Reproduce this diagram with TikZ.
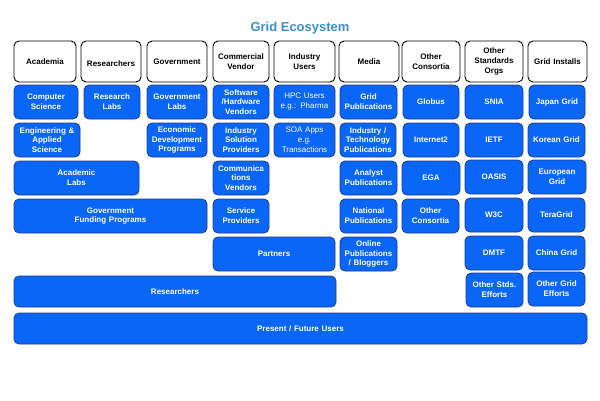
\documentclass[tikz,border=0pt]{standalone}
\usepackage{fontspec}
\setmainfont{Liberation Sans}
\definecolor{gblue}{HTML}{0A66F7}
\definecolor{gedge}{HTML}{1B3C8C}
\definecolor{gtitle}{HTML}{3B8FC8}
\tikzset{
  gbase/.style={rounded corners=5pt, inner sep=0pt, align=center, font=\fontsize{8}{9.8}\selectfont\bfseries},
  hdr/.style={gbase, draw=black, line width=0.9pt, fill=white, text=black},
  blu/.style={gbase, draw=gedge, line width=0.8pt, fill=gblue, text=white},
  blr/.style={blu, font=\fontsize{8}{9.8}\selectfont},
}
\newcommand{\gbox}[7]{%
  \pgfmathsetmacro\gw{#5-#3}\pgfmathsetmacro\gh{#6-#4}\pgfmathsetmacro\gtw{#5-#3-3}%
  \node[#1, minimum width=\gw pt, minimum height=\gh pt, text width=\gtw pt] (#2) at ({(#3+#5)/2},{(#4+#6)/2}) {#7};}
\begin{document}
\begin{tikzpicture}[x=1pt,y=-1pt]
\useasboundingbox (0,0) rectangle (600,400);
\node[text=gtitle, font=\fontsize{13}{15}\selectfont\bfseries] (title) at (300,28.5) {Grid Ecosystem};
% headers
\gbox{hdr}{hacad}{14}{41}{76}{82}{Academia}
\gbox{hdr}{hres}{81}{41}{141}{82}{\mbox{}\\Researchers}
\gbox{hdr}{hgov}{147}{41}{207}{82}{Government}
\gbox{hdr}{hcom}{213}{41}{269}{82}{Commercial\\Vendor}
\gbox{hdr}{hind}{274}{41}{335}{82}{Industry\\Users}
\gbox{hdr}{hmed}{339}{41}{399}{82}{Media}
\gbox{hdr}{hoc}{402}{41}{460}{82}{Other\\Consortia}
\gbox{hdr}{hoso}{465}{41}{523}{82}{Other\\Standards\\Orgs}
\gbox{hdr}{hgi}{528}{41}{587}{82}{Grid Installs}
% row 1
\gbox{blu}{cs}{14}{85}{78}{119}{Computer\\Science}
\gbox{blu}{rl}{84}{85}{140}{119}{Research\\Labs}
\gbox{blu}{gl}{147}{85}{207}{119}{Government\\Labs}
\gbox{blu}{shw}{213}{85}{269}{119}{Software\\/Hardware\\Vendors}
\gbox{blr}{hpc}{274}{85}{335}{118}{HPC Users\\e.g.: Pharma}
\gbox{blu}{gp}{340}{85}{397}{119}{Grid\\Publications}
\gbox{blu}{glob}{403}{85}{459}{119}{Globus}
\gbox{blu}{snia}{465}{85}{523}{119}{SNIA}
\gbox{blu}{jg}{529}{85}{585}{119}{Japan Grid}
% row 2
\gbox{blu}{eng}{14}{123}{80}{157}{Engineering \&\\Applied\\Science}
\gbox{blu}{edp}{147}{123}{207}{157}{Economic\\Development\\Programs}
\gbox{blu}{isp}{213}{123}{269}{157}{Industry\\Solution\\Providers}
\gbox{blr}{soa}{274}{123}{335}{157}{SOA Apps\\e.g.\\Transactions}
\gbox{blu}{itp}{340}{123}{396}{157}{Industry /\\Technology\\Publications}
\gbox{blu}{inet}{403}{123}{459}{157}{Internet2}
\gbox{blu}{ietf}{465}{123}{523}{157}{IETF}
\gbox{blu}{kg}{528}{123}{585}{157}{Korean Grid}
% row 3
\gbox{blu}{al}{14}{161}{139}{195}{Academic\\Labs}
\gbox{blu}{cv}{213}{161}{269}{195}{Communica\\tions\\Vendors}
\gbox{blu}{ap}{340}{161}{397}{195}{Analyst\\Publications}
\gbox{blu}{ega}{402}{161}{460}{195}{EGA}
\gbox{blu}{oasis}{465}{160}{523}{194}{OASIS}
\gbox{blu}{eg}{528}{160}{586}{194}{European\\Grid}
% row 4
\gbox{blu}{gfp}{14}{199}{207}{233}{Government\\Funding Programs}
\gbox{blu}{sp}{213}{199}{269}{233}{Service\\Providers}
\gbox{blu}{np}{340}{199}{397}{233}{National\\Publications}
\gbox{blu}{ocb}{402}{199}{459}{233}{Other\\Consortia}
\gbox{blu}{wtc}{465}{198}{523}{232}{W3C}
\gbox{blu}{tg}{528}{198}{585}{232}{TeraGrid}
% row 5
\gbox{blu}{part}{213}{237}{335}{271}{Partners}
\gbox{blu}{op}{340}{237}{397}{271}{Online\\Publications\\/ Bloggers}
\gbox{blu}{dmtf}{465}{236}{523}{270}{DMTF}
\gbox{blu}{chg}{528}{236}{585}{270}{China Grid}
% row 6
\gbox{blu}{resb}{14}{276}{336}{307}{Researchers}
\gbox{blu}{ose}{466}{273}{523}{307}{Other Stds.\\Efforts}
\gbox{blu}{oge}{528}{272}{585}{306}{Other Grid\\Efforts}
% row 7
\gbox{blu}{puf}{14}{313}{587}{344}{Present / Future Users}
\end{tikzpicture}
\end{document}
